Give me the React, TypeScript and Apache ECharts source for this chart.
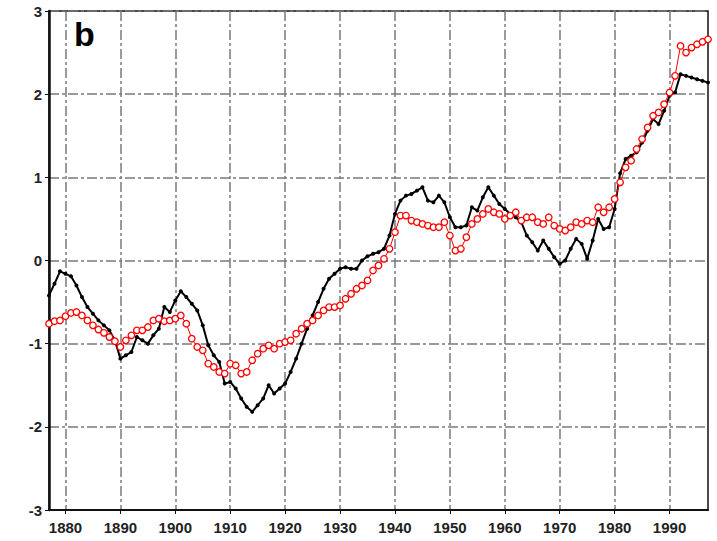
import React, { useEffect, useRef } from "react";
import * as echarts from "echarts";

const years: number[] = [];
for (let y = 1877; y <= 1997; y++) years.push(y);

const blackValues = [
  -0.42, -0.28, -0.13, -0.16, -0.19, -0.30, -0.44, -0.56, -0.64, -0.72,
  -0.78, -0.84, -0.96, -1.18, -1.14, -1.10, -0.92, -0.96, -1.00, -0.90,
  -0.82, -0.56, -0.62, -0.48, -0.37, -0.44, -0.52, -0.60, -0.78, -1.02,
  -1.14, -1.22, -1.48, -1.46, -1.54, -1.66, -1.76, -1.82, -1.74, -1.66,
  -1.50, -1.60, -1.54, -1.48, -1.34, -1.18, -1.00, -0.82, -0.66, -0.50,
  -0.34, -0.22, -0.16, -0.10, -0.08, -0.10, -0.10, 0.00, 0.05, 0.08,
  0.10, 0.14, 0.30, 0.56, 0.72, 0.78, 0.80, 0.84, 0.88, 0.72,
  0.70, 0.78, 0.70, 0.52, 0.40, 0.40, 0.42, 0.64, 0.60, 0.76,
  0.88, 0.78, 0.68, 0.62, 0.56, 0.52, 0.46, 0.30, 0.22, 0.12,
  0.24, 0.14, 0.04, -0.04, 0.00, 0.14, 0.26, 0.20, 0.02, 0.24,
  0.50, 0.38, 0.40, 0.62, 1.05, 1.22, 1.26, 1.30, 1.42, 1.56,
  1.70, 1.64, 1.80, 1.98, 2.02, 2.24, 2.22, 2.20, 2.18, 2.16,
  2.14,
];

const redValues = [
  -0.76, -0.73, -0.72, -0.67, -0.63, -0.62, -0.66, -0.72, -0.78, -0.83,
  -0.87, -0.92, -0.97, -1.04, -0.96, -0.90, -0.84, -0.84, -0.80, -0.72,
  -0.70, -0.73, -0.72, -0.70, -0.66, -0.76, -0.94, -1.04, -1.08, -1.24,
  -1.28, -1.34, -1.36, -1.24, -1.26, -1.36, -1.34, -1.20, -1.12, -1.06,
  -1.02, -1.06, -1.00, -0.98, -0.96, -0.88, -0.82, -0.76, -0.72, -0.66,
  -0.60, -0.56, -0.56, -0.54, -0.46, -0.40, -0.34, -0.30, -0.24, -0.12,
  -0.06, 0.02, 0.14, 0.34, 0.54, 0.54, 0.48, 0.46, 0.44, 0.42,
  0.40, 0.40, 0.46, 0.30, 0.12, 0.14, 0.28, 0.44, 0.50, 0.56,
  0.62, 0.58, 0.56, 0.50, 0.54, 0.58, 0.48, 0.52, 0.52, 0.46,
  0.44, 0.52, 0.42, 0.38, 0.36, 0.40, 0.46, 0.44, 0.48, 0.46,
  0.64, 0.58, 0.64, 0.74, 0.94, 1.12, 1.20, 1.34, 1.46, 1.60,
  1.74, 1.78, 1.88, 2.02, 2.22, 2.58, 2.50, 2.56, 2.60, 2.63,
  2.66,
];

const xTickValues = [1880, 1890, 1900, 1910, 1920, 1930, 1940, 1950, 1960, 1970, 1980, 1990];
const panelLabel = "b";

export default function App() {
  const ref = useRef<HTMLDivElement>(null);
  useEffect(() => {
    if (!ref.current) return;
    const chart = echarts.init(ref.current, undefined, { renderer: "svg" });
    const gridLine = { show: true, lineStyle: { color: "#7a7a7a", width: 1.5, type: [10, 3, 3, 3] as any } };
    const labelStyle = { color: "#222", fontSize: 15, fontWeight: "bold" as any, fontFamily: "Liberation Sans, Arial, sans-serif" };
    chart.setOption({
      animation: false,
      backgroundColor: "#fff",
      grid: { left: 49, right: 9, top: 11, bottom: 31, show: true, borderColor: "#111", borderWidth: 1.5, containLabel: false },
      xAxis: {
        type: "value",
        min: 1877,
        max: 1997,
        axisLine: { show: true, onZero: false, lineStyle: { color: "#111", width: 2 } },
        axisTick: { show: true, length: 4, lineStyle: { color: "#111" }, customValues: xTickValues },
        axisLabel: { ...labelStyle, margin: 10, customValues: xTickValues, formatter: (v: number) => String(v) },
        splitLine: gridLine,
      },
      yAxis: {
        type: "value",
        min: -3,
        max: 3,
        interval: 1,
        axisLine: { show: true, onZero: false, lineStyle: { color: "#111", width: 2.5 } },
        axisTick: { show: true, length: 4, lineStyle: { color: "#111" } },
        axisLabel: { ...labelStyle, margin: 7 },
        splitLine: gridLine,
      },
      graphic: [
        {
          type: "text",
          left: 74,
          top: 17,
          style: { text: panelLabel, fontSize: 34, fontWeight: "bold", fill: "#000", fontFamily: "Liberation Sans, Arial, sans-serif" },
        },
      ],
      series: [
        {
          type: "line",
          data: years.map((y, i) => [y, blackValues[i]]),
          symbol: "circle",
          symbolSize: 4,
          lineStyle: { color: "#000", width: 2 },
          itemStyle: { color: "#000" },
          z: 2,
        },
        {
          type: "line",
          data: years.map((y, i) => [y, redValues[i]]),
          symbol: "circle",
          symbolSize: 6.5,
          lineStyle: { color: "#ff0000", width: 1 },
          itemStyle: { color: "#fff", borderColor: "#ff0000", borderWidth: 1.3 },
          z: 3,
        },
      ],
    });
    return () => chart.dispose();
  }, []);
  return <div ref={ref} style={{ position: "absolute", left: 0, top: 0, width: 717, height: 541 }} />;
}
